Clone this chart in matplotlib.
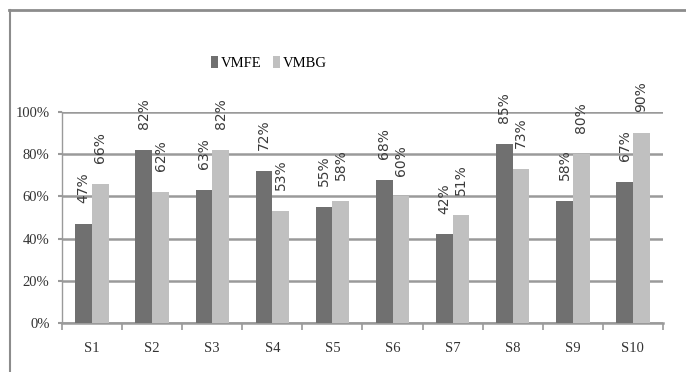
import numpy as np
import matplotlib.pyplot as plt
from matplotlib.lines import Line2D

# scores per subject, in percent
subjects = ['S1', 'S2', 'S3', 'S4', 'S5', 'S6', 'S7', 'S8', 'S9', 'S10']
vmfe = [47, 82, 63, 72, 55, 68, 42, 85, 58, 67]
vmbg = [66, 62, 82, 53, 58, 60, 51, 73, 80, 90]
yticks = [0, 20, 40, 60, 80, 100]

dark = '#707070'
light = '#c0c0c0'
grid = '#9a9a9a'
serif = 'Liberation Serif'

fig = plt.figure(figsize=(6.86, 3.72), dpi=100)
ax = fig.add_axes([0.0904, 0.1317, 0.876, 0.567])

x = np.arange(len(subjects))
w = 0.278
b1 = ax.bar(x - w/2, vmfe, w, color=dark, label='VMFE', zorder=3)
b2 = ax.bar(x + w/2, vmbg, w, color=light, label='VMBG', zorder=3)

# rotated value labels above each bar
for bars, vals in [(b1, vmfe), (b2, vmbg)]:
    for r, v in zip(bars, vals):
        ax.annotate('%d%%' % v, (r.get_x() + r.get_width()/2, v),
                    xytext=(0, 15), textcoords='offset points',
                    rotation=90, ha='center', va='bottom',
                    fontsize=10, color='#3a3a3a', family='DejaVu Sans',
                    zorder=4)

ax.set_xlim(-0.5, len(subjects) - 0.5)
ax.set_ylim(0, 100)
ax.set_yticks(yticks)
ax.set_yticklabels(['%d%%' % t for t in yticks], family=serif,
                   fontsize=10.5, color='#333333')
ax.yaxis.grid(True, color=grid, lw=1.8, zorder=0)
ax.tick_params(axis='y', length=3, color=grid, width=1.5, pad=6)

ax.set_xticks(x)
ax.set_xticklabels(subjects, family=serif, fontsize=10.5, color='#333333')
ax.set_xticks(np.arange(len(subjects) + 1) - 0.5, minor=True)
ax.tick_params(axis='x', which='major', length=0, pad=14)
ax.tick_params(axis='x', which='minor', length=5, color=grid, width=1.2)

for s in ['top', 'right']:
    ax.spines[s].set_visible(False)
ax.spines['left'].set_color(grid)
ax.spines['left'].set_linewidth(1.0)
ax.spines['bottom'].set_color(grid)
ax.spines['bottom'].set_linewidth(1.8)

fig.legend(handles=[b1, b2], loc='center', bbox_to_anchor=(0.392, 0.83),
           ncol=2, frameon=False, handlelength=0.5, handleheight=0.9,
           handletextpad=0.2, columnspacing=0.8,
           prop={'family': serif, 'size': 10.5})

# chart area border, cut off at right and bottom
fig.add_artist(Line2D([9/686, 1], [1 - 10/372, 1 - 10/372],
                      transform=fig.transFigure, color='#8c8c8c', lw=2))
fig.add_artist(Line2D([10/686, 10/686], [0, 1 - 10/372],
                      transform=fig.transFigure, color='#8c8c8c', lw=1.5))

fig.savefig('out.png', dpi=100)
